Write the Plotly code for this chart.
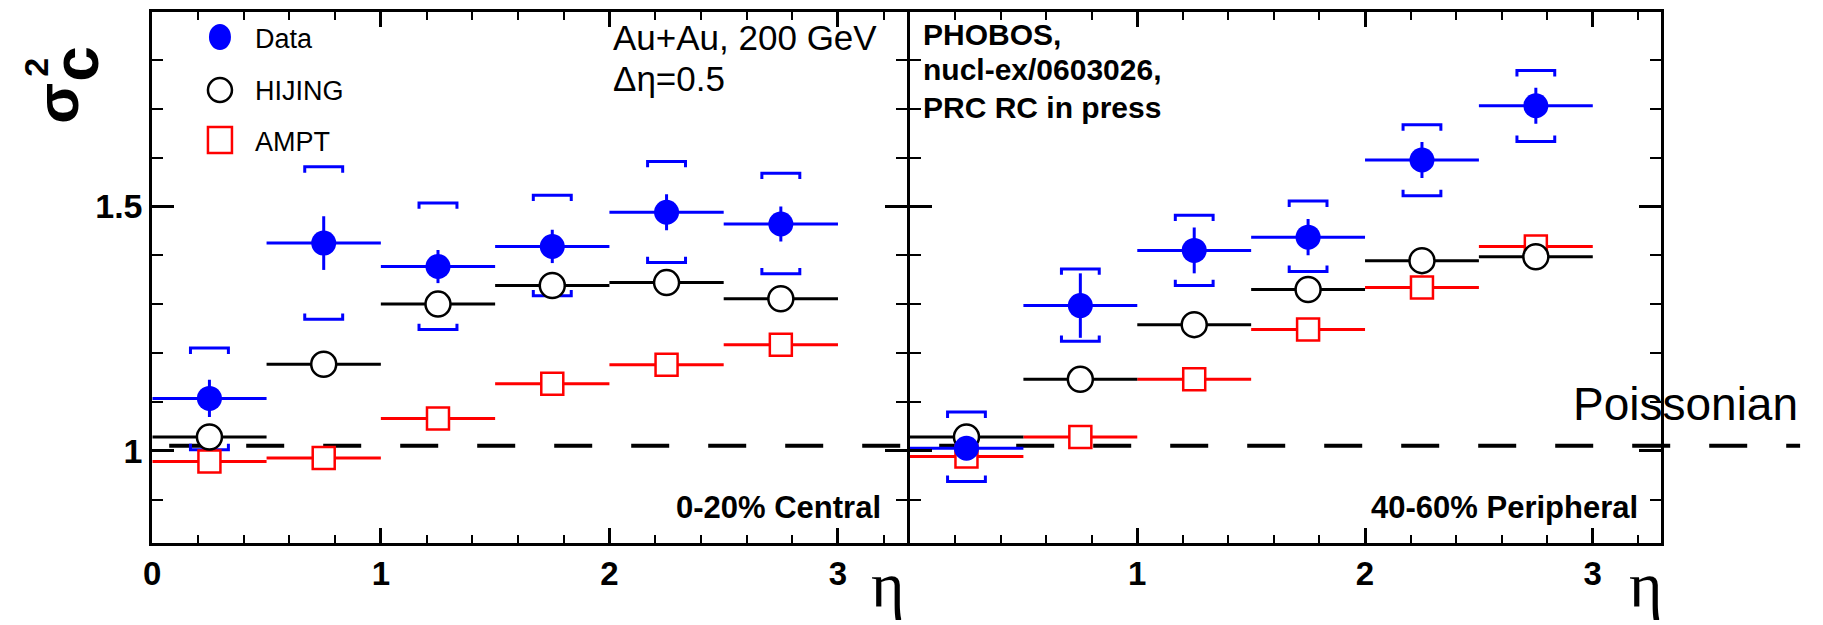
import plotly.graph_objects as go

# ---------------- data ----------------
eta = [0.25, 0.75, 1.25, 1.75, 2.25, 2.75]
eta_halfbin = [0.25, 0.25, 0.25, 0.25, 0.25, 0.25]

# 0-20% central
central_data = [1.107, 1.425, 1.377, 1.418, 1.488, 1.464]
central_stat = [0.038, 0.055, 0.034, 0.034, 0.037, 0.036]
central_sys_hi = [1.210, 1.581, 1.507, 1.523, 1.592, 1.568]
central_sys_lo = [1.002, 1.269, 1.248, 1.317, 1.385, 1.362]
central_hijing = [1.028, 1.177, 1.300, 1.338, 1.344, 1.311]
central_ampt = [0.978, 0.985, 1.066, 1.137, 1.176, 1.217]

# 40-60% peripheral
periph_data = [1.005, 1.297, 1.410, 1.437, 1.595, 1.706]
periph_stat = [0.020, 0.066, 0.047, 0.037, 0.037, 0.037]
periph_sys_hi = [1.079, 1.372, 1.482, 1.511, 1.667, 1.778]
periph_sys_lo = [0.937, 1.224, 1.338, 1.367, 1.522, 1.633]
periph_hijing = [1.028, 1.146, 1.258, 1.330, 1.389, 1.397]
periph_ampt = [0.988, 1.028, 1.146, 1.248, 1.334, 1.418]

poisson_level = 1.01
x_range = [0, 3.3]
y_range = [0.812, 1.899]

# ---------------- style ----------------
W, H = 1823, 625
BLUE, RED, BLACK = "#0000ff", "#ff0000", "#000000"
BR_HALF = 0.083   # bracket half width (eta units)
BR_LEG = 0.012    # bracket leg length (y units)
SANS = "Liberation Sans, Arial, Helvetica, sans-serif"
SERIF = "Liberation Serif, Times New Roman, DejaVu Serif, serif"


def px(xp):
    return xp / W


def py(yp):
    return 1 - yp / H


fig = go.Figure()


def add_panel(xa, ya, data, stat, lo, hi, hij, ampt):
    bx, by = [], []
    for x, l, h in zip(eta, lo, hi):
        bx += [x - BR_HALF, x - BR_HALF, x + BR_HALF, x + BR_HALF, None,
               x - BR_HALF, x - BR_HALF, x + BR_HALF, x + BR_HALF, None]
        by += [h - BR_LEG, h, h, h - BR_LEG, None,
               l + BR_LEG, l, l, l + BR_LEG, None]
    fig.add_trace(go.Scatter(x=bx, y=by, mode="lines", xaxis=xa, yaxis=ya,
                             line=dict(color=BLUE, width=3), showlegend=False,
                             hoverinfo="skip", cliponaxis=False))
    fig.add_trace(go.Scatter(
        x=eta, y=ampt, mode="markers", xaxis=xa, yaxis=ya, name="AMPT", showlegend=False,
        marker=dict(symbol="square", size=22, color="white", line=dict(color=RED, width=2.5)),
        error_x=dict(type="data", array=eta_halfbin, color=RED, thickness=3, width=0)))
    fig.add_trace(go.Scatter(
        x=eta, y=hij, mode="markers", xaxis=xa, yaxis=ya, name="HIJING", showlegend=False,
        marker=dict(symbol="circle", size=25, color="white", line=dict(color=BLACK, width=2.5)),
        error_x=dict(type="data", array=eta_halfbin, color=BLACK, thickness=3, width=0)))
    fig.add_trace(go.Scatter(
        x=eta, y=data, mode="markers", xaxis=xa, yaxis=ya, name="Data", showlegend=False,
        marker=dict(symbol="circle", size=25, color=BLUE, line=dict(width=0)),
        error_x=dict(type="data", array=eta_halfbin, color=BLUE, thickness=3, width=0),
        error_y=dict(type="data", array=stat, color=BLUE, thickness=3, width=0)))


add_panel("x", "y", central_data, central_stat, central_sys_lo, central_sys_hi,
          central_hijing, central_ampt)
add_panel("x2", "y2", periph_data, periph_stat, periph_sys_lo, periph_sys_hi,
          periph_hijing, periph_ampt)

common_x = dict(range=x_range, showline=True, linewidth=3, linecolor=BLACK, mirror="ticks",
                ticks="inside", ticklen=15, tickwidth=3, tickcolor=BLACK, showgrid=False,
                zeroline=False, tickfont=dict(family=SANS, size=33, color=BLACK, weight="bold"),
                minor=dict(ticks="inside", ticklen=8, tickwidth=2, tickcolor=BLACK,
                           dtick=0.2, tick0=0, showgrid=False))
common_y = dict(range=y_range, showline=True, linewidth=3, linecolor=BLACK, mirror="ticks",
                ticks="inside", ticklen=22, tickwidth=3, tickcolor=BLACK, showgrid=False,
                zeroline=False, tickmode="linear", tick0=0, dtick=0.5,
                tickfont=dict(family=SANS, size=34, color=BLACK, weight="bold"),
                minor=dict(ticks="inside", ticklen=11, tickwidth=2, tickcolor=BLACK,
                           dtick=0.1, tick0=0, showgrid=False))

# axis lines are drawn half a line width outside the domain
Y_DOM = [py(542.5), py(11.5)]
fig.update_layout(
    width=W, height=H, autosize=False,
    margin=dict(l=0, r=0, t=0, b=0),
    paper_bgcolor="white", plot_bgcolor="rgba(0,0,0,0)",
    showlegend=False,
    xaxis=dict(common_x, domain=[px(144), px(902)], anchor="y",
               tickmode="array", tickvals=[0, 1, 2, 3], ticktext=["0", "1", "2", "3"]),
    yaxis=dict(common_y, domain=Y_DOM, anchor="x"),
    xaxis2=dict(common_x, domain=[px(905), px(1660.3)], anchor="y2",
                tickmode="array", tickvals=[0, 1, 2, 3], ticktext=["", "1", "2", "3"]),
    yaxis2=dict(common_y, domain=Y_DOM, anchor="x2", showticklabels=False),
)

# Poissonian reference line
fig.add_shape(type="line", xref="paper", yref="y", x0=px(161), x1=px(1800),
              y0=poisson_level, y1=poisson_level, layer="below",
              line=dict(color=BLACK, width=4, dash="38px,39px"))

# legend (drawn manually to keep large ROOT-style markers)
fig.add_shape(type="circle", xref="paper", yref="paper", xsizemode="pixel", ysizemode="pixel",
              xanchor=px(212), yanchor=py(37), x0=-11, x1=11, y0=-13, y1=13,
              fillcolor=BLUE, line=dict(color=BLUE, width=0))
fig.add_shape(type="circle", xref="paper", yref="paper", xsizemode="pixel", ysizemode="pixel",
              xanchor=px(212), yanchor=py(90), x0=-12, x1=12, y0=-12, y1=12,
              fillcolor="white", line=dict(color=BLACK, width=2.5))
fig.add_shape(type="rect", xref="paper", yref="paper", xsizemode="pixel", ysizemode="pixel",
              xanchor=px(212), yanchor=py(140), x0=-12, x1=12, y0=-13, y1=13,
              fillcolor="white", line=dict(color=RED, width=2.5))


def note(text, x, y, size, family=SANS, xanchor="left", angle=0, color=BLACK):
    fig.add_annotation(text=text, xref="paper", yref="paper", x=px(x), y=py(y),
                       xanchor=xanchor, yanchor="middle", showarrow=False, textangle=angle,
                       font=dict(family=family, size=size, color=color))


note("Data", 245, 39, 27)
note("HIJING", 245, 91, 27)
note("AMPT", 245, 142, 27)
note("Au+Au, 200 GeV", 605, 37, 35)
note("Δη=0.5", 605, 78, 35)
note("<b>PHOBOS,</b>", 917, 34, 30)
note("<b>nucl-ex/0603026,</b>", 917, 70, 30)
note("<b>PRC RC in press</b>", 917, 107, 30)
note("<b>0-20% Central</b>", 878, 507, 31, xanchor="right")
note("<b>40-60% Peripheral</b>", 1639, 507, 31, xanchor="right")
note("Poissonian", 1570, 404, 46)
note("η", 883, 584, 64, family=SERIF, xanchor="center")
note("η", 1645, 584, 64, family=SERIF, xanchor="center")
# y-axis title sigma_c^2 (rotated)
note("<b>σ</b>", 48, 103, 60, xanchor="center", angle=-90)
note("<b>c</b>", 67, 64, 64, xanchor="center", angle=-90)
note("<b>2</b>", 27, 67, 34, xanchor="center", angle=-90)

fig.write_html("out.html", config={"displayModeBar": False},
               post_script="document.body.style.margin='0px';")
